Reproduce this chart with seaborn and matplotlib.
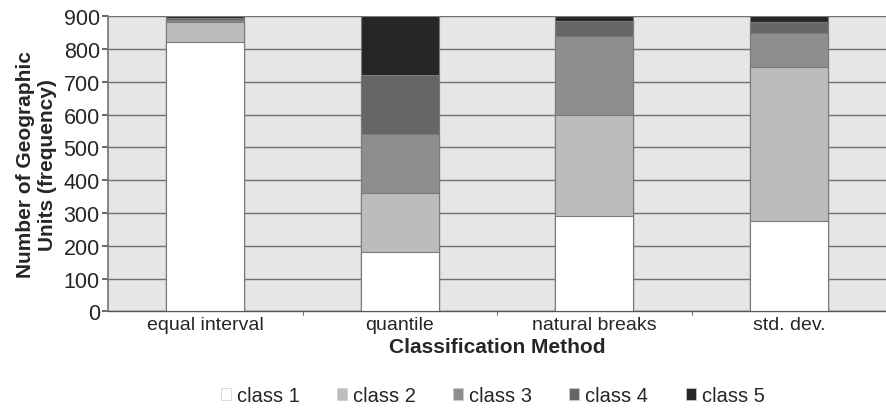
import numpy as np
import pandas as pd
import matplotlib
matplotlib.use("Agg")
import matplotlib.pyplot as plt
import seaborn as sns
from matplotlib.patches import Patch

methods = ["equal interval", "quantile", "natural breaks", "std. dev."]
classes = ["class 1", "class 2", "class 3", "class 4", "class 5"]
class1 = [820, 180, 290, 275]
class2 = [62, 180, 310, 470]
class3 = [8, 180, 240, 103]
class4 = [5, 180, 45, 33]
class5 = [5, 180, 15, 19]
colors = ["#ffffff", "#bcbcbc", "#8e8e8e", "#666666", "#262626"]

series = [class1, class2, class3, class4, class5]
rows = []
for cname, vals in zip(classes, series):
    for m, v in zip(methods, vals):
        rows.append({"method": m, "cls": cname, "count": v})
df = pd.DataFrame(rows)
df["cum"] = df.groupby("method", sort=False)["count"].cumsum()

sns.set_theme(style="white")
plt.rcParams["font.family"] = ["Liberation Sans", "DejaVu Sans"]

fig, ax = plt.subplots(figsize=(8.86, 4.10), dpi=100)
fig.subplots_adjust(left=0.122, right=1.0, top=0.958, bottom=0.238)
ax.set_facecolor("#e6e6e6")

# stacked bars: draw cumulative totals from top class down
for cname, col in reversed(list(zip(classes, colors))):
    sub = df[df["cls"] == cname]
    sns.barplot(data=sub, x="method", y="cum", order=methods, color=col,
                width=0.4, edgecolor="#7a7a7a", linewidth=0.8, ax=ax,
                saturation=1, zorder=3)

ax.set_ylim(0, 900)
ax.set_xlim(-0.5, 3.5)
ax.set_yticks(np.arange(0, 901, 100))
ax.yaxis.grid(True, color="#707070", linewidth=1.0, zorder=0)
ax.set_axisbelow(True)
ax.tick_params(axis="y", labelsize=15.5, length=4, color="#555555", left=True, pad=2)
ax.tick_params(axis="x", labelsize=14, length=0, pad=3)
for s in ["top", "right"]:
    ax.spines[s].set_visible(False)
ax.spines["left"].set_color("#777777")
ax.spines["bottom"].set_color("#555555")
ax.spines["bottom"].set_linewidth(1.0)

# boundary ticks between categories
for b in [0.5, 1.5, 2.5]:
    ax.plot([b, b], [0, -12], color="#777777", lw=0.8, clip_on=False)

ax.set_ylabel("Number of Geographic\nUnits (frequency)", fontsize=15,
              fontweight="bold", labelpad=5, linespacing=1.15)
ax.set_xlabel("Classification Method", fontsize=15, fontweight="bold", labelpad=3)

handles = [Patch(facecolor=c, edgecolor="#cccccc", linewidth=0.5) for c in colors]
fig.legend(handles, classes, loc="lower center", ncol=5, frameon=False,
           fontsize=14.5, bbox_to_anchor=(0.556, -0.035), handlelength=0.5,
           handleheight=0.5, handletextpad=0.3, columnspacing=1.85)

fig.savefig("out.png", dpi=100)
